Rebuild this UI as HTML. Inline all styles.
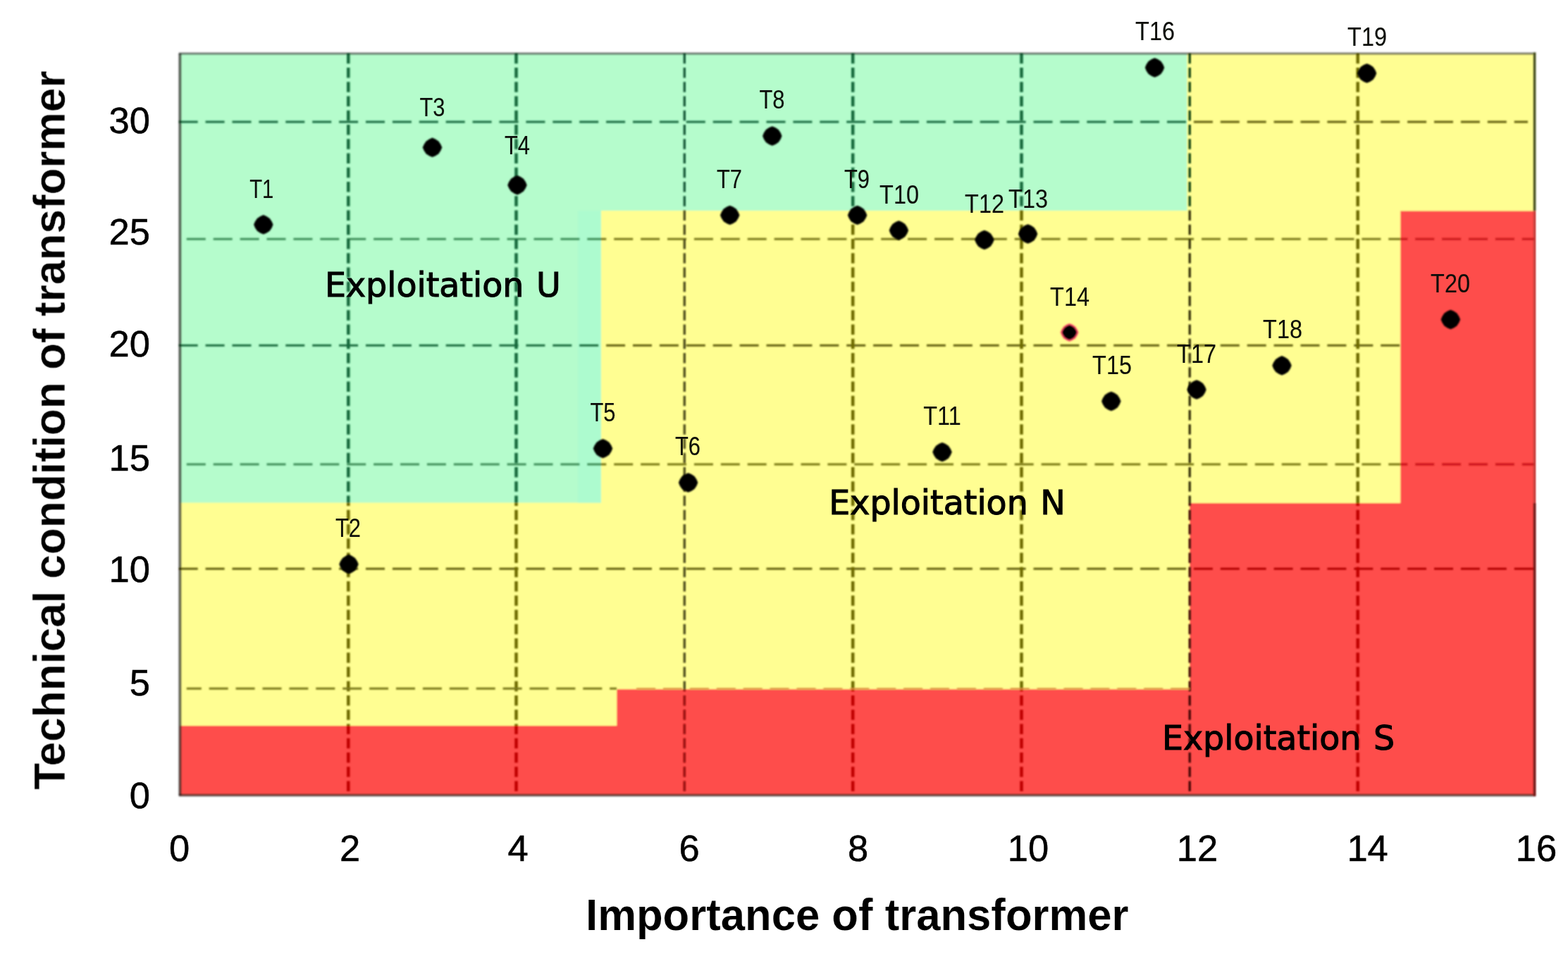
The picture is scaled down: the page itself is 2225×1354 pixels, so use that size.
<!DOCTYPE html>
<html lang="en"><head><meta charset="utf-8"><title>Technical condition vs importance of transformer</title>
<style>
html,body{margin:0;padding:0;background:#fff;}
body{width:2225px;height:1354px;overflow:hidden;}
svg{display:block;}
.tick{font-family:"Liberation Sans",Arial,sans-serif;font-size:52.5px;fill:#000;stroke:#000;stroke-width:0.5px;}
.title{font-family:"Liberation Sans",Arial,sans-serif;font-weight:bold;font-size:61.4px;fill:#000;}
.zone{font-family:"DejaVu Sans","Liberation Sans",sans-serif;font-size:47.5px;fill:#000;stroke:#000;stroke-width:1.1px;word-spacing:2.5px;}
.pt{font-family:"Liberation Sans",Arial,sans-serif;font-size:37px;fill:#0a0e08;stroke:#0a0e08;stroke-width:0.12px;}
</style></head><body>
<svg width="2225" height="1354" viewBox="0 0 2225 1354">
<defs>
<filter id="soft" x="-5%" y="-5%" width="110%" height="110%"><feGaussianBlur stdDeviation="0.9"/></filter>
<filter id="soft2" x="-5%" y="-5%" width="110%" height="110%"><feGaussianBlur stdDeviation="0.6"/></filter>
<filter id="soft3" x="-5%" y="-5%" width="110%" height="110%"><feGaussianBlur stdDeviation="0.55"/></filter>
<filter id="softg" x="-5%" y="-5%" width="110%" height="110%"><feGaussianBlur stdDeviation="1.0"/></filter>
<filter id="soft4" x="-5%" y="-5%" width="110%" height="110%"><feGaussianBlur stdDeviation="0.95"/></filter>
<clipPath id="cg"><polygon points="251.3,72.0 1691.0,72.0 1691.0,299.0 853.0,299.0 853.0,713.5 251.3,713.5"/></clipPath>
<clipPath id="cr"><polygon points="251.3,1030.0 875.3,1030.0 875.3,978.6 1685.5,978.6 1685.5,714.0 1987.3,714.0 1987.3,299.5 2181.6,299.5 2181.6,1132.8 251.3,1132.8"/></clipPath>
<clipPath id="cy"><path clip-rule="evenodd" d="M251.3 72.0L2181.6 72.0L2181.6 1132.8L251.3 1132.8Z M251.3 72.0L1691.0 72.0L1691.0 299.0L853.0 299.0L853.0 713.5L251.3 713.5Z M251.3 1030.0L875.3 1030.0L875.3 978.6L1685.5 978.6L1685.5 714.0L1987.3 714.0L1987.3 299.5L2181.6 299.5L2181.6 1132.8L251.3 1132.8Z"/></clipPath>
</defs>
<rect x="0" y="0" width="2225" height="1354" fill="#ffffff"/>
<g filter="url(#soft)">
<rect x="255.3" y="76.0" width="1922.3" height="1052.8" fill="#fffe92"/>
<polygon fill="#b5fccc" points="255.3,76.0 1684.5,76.0 1684.5,299.0 853.0,299.0 853.0,713.5 255.3,713.5"/>
<rect x="820" y="299" width="33" height="414.5" fill="#adfbcf"/>
<polygon fill="#fe4e4b" points="255.3,1030.0 875.3,1030.0 875.3,978.2 1688.0,978.2 1688.0,714.0 1987.3,714.0 1987.3,299.5 2177.6,299.5 2177.6,1128.8 255.3,1128.8"/>
</g>
<g filter="url(#softg)" fill="none">
<g clip-path="url(#cy)">
<g stroke="#7a7819" stroke-width="3.0" stroke-dasharray="27.00 10.90"><path d="M264.8 339.3H2179.0"/><path d="M264.8 659.0H2179.0"/></g>
<g stroke="#64600a" stroke-width="3.0" stroke-dasharray="27.00 10.90"><path d="M253.7 173.0H2168.0"/><path d="M253.7 490.3H1987.0"/><path d="M253.7 807.2H2179.0"/></g>
<g stroke="#6e6b05" stroke-width="4.5" stroke-dasharray="14.60 5.65"><path d="M494.3 75.7V1128.8"/><path d="M732.5 75.7V1128.8"/><path d="M1210.2 75.7V1128.8"/><path d="M1449.5 75.7V1128.8"/><path d="M1926.7 75.7V1128.8"/></g>
<path d="M1688.2 75.7V1128.8" stroke="#262400" stroke-width="3.1" stroke-dasharray="14.60 5.65"/>
<path d="M971.3 75.7V1128.8" stroke="#504e1c" stroke-width="3.4" stroke-dasharray="14.60 5.65"/>
</g>
<g clip-path="url(#cg)">
<g stroke="#3f8f5a" stroke-width="3.0" stroke-dasharray="27.00 10.90"><path d="M264.8 339.3H2179.0"/><path d="M264.8 659.0H2179.0"/></g>
<g stroke="#1c6c40" stroke-width="3.0" stroke-dasharray="27.00 10.90"><path d="M253.7 173.0H2168.0"/><path d="M253.7 490.3H1987.0"/><path d="M253.7 807.2H2179.0"/></g>
<g stroke="#136a3c" stroke-width="4.5" stroke-dasharray="14.60 5.65"><path d="M494.3 75.7V1128.8"/><path d="M732.5 75.7V1128.8"/><path d="M1210.2 75.7V1128.8"/><path d="M1449.5 75.7V1128.8"/><path d="M1926.7 75.7V1128.8"/></g>
<path d="M1688.2 75.7V1128.8" stroke="#003608" stroke-width="3.1" stroke-dasharray="14.60 5.65"/>
<path d="M971.3 75.7V1128.8" stroke="#165a3a" stroke-width="3.4" stroke-dasharray="14.60 5.65"/>
</g>
<g clip-path="url(#cr)">
<g stroke="#c9181c" stroke-width="3.0" stroke-dasharray="27.00 10.90"><path d="M264.8 339.3H2179.0"/><path d="M264.8 659.0H2179.0"/></g>
<g stroke="#b00606" stroke-width="3.0" stroke-dasharray="27.00 10.90"><path d="M253.7 173.0H2168.0"/><path d="M253.7 490.3H1987.0"/><path d="M253.7 807.2H2179.0"/></g>
<g stroke="#c00505" stroke-width="4.5" stroke-dasharray="14.60 5.65"><path d="M494.3 75.7V1128.8"/><path d="M732.5 75.7V1128.8"/><path d="M1210.2 75.7V1128.8"/><path d="M1449.5 75.7V1128.8"/><path d="M1926.7 75.7V1128.8"/></g>
<path d="M1688.2 75.7V1128.8" stroke="#380000" stroke-width="3.1" stroke-dasharray="14.60 5.65"/>
<path d="M971.3 75.7V1128.8" stroke="#960808" stroke-width="3.4" stroke-dasharray="14.60 5.65"/>
</g>
<path d="M264.8 977.2H875.0" stroke="#7a7819" stroke-width="3.0" stroke-dasharray="27.00 10.90" stroke-dashoffset="6.0"/>
<path d="M903.1 977.6H1688.0" stroke="#d98a3a" stroke-width="2.2" stroke-dasharray="27.00 10.90"/>
<path d="M253.7 76.0H2179.2" stroke="#000" stroke-opacity="0.5" stroke-width="3.2"/>
<path d="M253.7 1128.8H2179.2" stroke="#000" stroke-opacity="0.55" stroke-width="3.4"/>
<path d="M255.3 76.0V1128.8" stroke="#000" stroke-opacity="0.6" stroke-width="3.8"/>
<path d="M2177.6 74.4V299.5" stroke="#3f4716" stroke-width="3.4"/>
<path d="M2177.6 299.5V714.0" stroke="#c02c2c" stroke-width="3.0"/>
<path d="M2177.6 714.0V1129.8" stroke="#6a0909" stroke-width="3.4"/>
</g>
<g filter="url(#soft4)">
<path transform="translate(373.8 318.8)" d="M0 -13.7L4.4 -11.9L8.9 -8.9L11.9 -4.4L13.7 0L11.9 4.4L8.9 8.9L4.4 11.9L0 13.7L-4.4 11.9L-8.9 8.9L-11.9 4.4L-13.7 0L-11.9 -4.4L-8.9 -8.9L-4.4 -11.9Z" fill="#000"/>
<path transform="translate(495.0 800.8)" d="M0 -13.7L4.4 -11.9L8.9 -8.9L11.9 -4.4L13.7 0L11.9 4.4L8.9 8.9L4.4 11.9L0 13.7L-4.4 11.9L-8.9 8.9L-11.9 4.4L-13.7 0L-11.9 -4.4L-8.9 -8.9L-4.4 -11.9Z" fill="#000"/>
<path transform="translate(613.5 209.3)" d="M0 -13.7L4.4 -11.9L8.9 -8.9L11.9 -4.4L13.7 0L11.9 4.4L8.9 8.9L4.4 11.9L0 13.7L-4.4 11.9L-8.9 8.9L-11.9 4.4L-13.7 0L-11.9 -4.4L-8.9 -8.9L-4.4 -11.9Z" fill="#000"/>
<path transform="translate(734.0 262.7)" d="M0 -13.7L4.4 -11.9L8.9 -8.9L11.9 -4.4L13.7 0L11.9 4.4L8.9 8.9L4.4 11.9L0 13.7L-4.4 11.9L-8.9 8.9L-11.9 4.4L-13.7 0L-11.9 -4.4L-8.9 -8.9L-4.4 -11.9Z" fill="#000"/>
<path transform="translate(855.5 636.6)" d="M0 -13.7L4.4 -11.9L8.9 -8.9L11.9 -4.4L13.7 0L11.9 4.4L8.9 8.9L4.4 11.9L0 13.7L-4.4 11.9L-8.9 8.9L-11.9 4.4L-13.7 0L-11.9 -4.4L-8.9 -8.9L-4.4 -11.9Z" fill="#000"/>
<path transform="translate(976.6 685.0)" d="M0 -13.7L4.4 -11.9L8.9 -8.9L11.9 -4.4L13.7 0L11.9 4.4L8.9 8.9L4.4 11.9L0 13.7L-4.4 11.9L-8.9 8.9L-11.9 4.4L-13.7 0L-11.9 -4.4L-8.9 -8.9L-4.4 -11.9Z" fill="#000"/>
<path transform="translate(1035.7 305.4)" d="M0 -13.7L4.4 -11.9L8.9 -8.9L11.9 -4.4L13.7 0L11.9 4.4L8.9 8.9L4.4 11.9L0 13.7L-4.4 11.9L-8.9 8.9L-11.9 4.4L-13.7 0L-11.9 -4.4L-8.9 -8.9L-4.4 -11.9Z" fill="#000"/>
<path transform="translate(1095.8 193.0)" d="M0 -13.7L4.4 -11.9L8.9 -8.9L11.9 -4.4L13.7 0L11.9 4.4L8.9 8.9L4.4 11.9L0 13.7L-4.4 11.9L-8.9 8.9L-11.9 4.4L-13.7 0L-11.9 -4.4L-8.9 -8.9L-4.4 -11.9Z" fill="#000"/>
<path transform="translate(1216.6 305.4)" d="M0 -13.7L4.4 -11.9L8.9 -8.9L11.9 -4.4L13.7 0L11.9 4.4L8.9 8.9L4.4 11.9L0 13.7L-4.4 11.9L-8.9 8.9L-11.9 4.4L-13.7 0L-11.9 -4.4L-8.9 -8.9L-4.4 -11.9Z" fill="#000"/>
<path transform="translate(1275.4 327.0)" d="M0 -13.7L4.4 -11.9L8.9 -8.9L11.9 -4.4L13.7 0L11.9 4.4L8.9 8.9L4.4 11.9L0 13.7L-4.4 11.9L-8.9 8.9L-11.9 4.4L-13.7 0L-11.9 -4.4L-8.9 -8.9L-4.4 -11.9Z" fill="#000"/>
<path transform="translate(1337.0 641.6)" d="M0 -13.7L4.4 -11.9L8.9 -8.9L11.9 -4.4L13.7 0L11.9 4.4L8.9 8.9L4.4 11.9L0 13.7L-4.4 11.9L-8.9 8.9L-11.9 4.4L-13.7 0L-11.9 -4.4L-8.9 -8.9L-4.4 -11.9Z" fill="#000"/>
<path transform="translate(1396.9 340.5)" d="M0 -13.7L4.4 -11.9L8.9 -8.9L11.9 -4.4L13.7 0L11.9 4.4L8.9 8.9L4.4 11.9L0 13.7L-4.4 11.9L-8.9 8.9L-11.9 4.4L-13.7 0L-11.9 -4.4L-8.9 -8.9L-4.4 -11.9Z" fill="#000"/>
<path transform="translate(1458.6 332.0)" d="M0 -13.7L4.4 -11.9L8.9 -8.9L11.9 -4.4L13.7 0L11.9 4.4L8.9 8.9L4.4 11.9L0 13.7L-4.4 11.9L-8.9 8.9L-11.9 4.4L-13.7 0L-11.9 -4.4L-8.9 -8.9L-4.4 -11.9Z" fill="#000"/>
<path transform="translate(1517.6 471.8) scale(0.94)" d="M0 -13.7L4.4 -11.9L8.9 -8.9L11.9 -4.4L13.7 0L11.9 4.4L8.9 8.9L4.4 11.9L0 13.7L-4.4 11.9L-8.9 8.9L-11.9 4.4L-13.7 0L-11.9 -4.4L-8.9 -8.9L-4.4 -11.9Z" fill="#ff4d6c"/>
<path transform="translate(1517.6 471.8) scale(0.79)" d="M0 -13.7L4.4 -11.9L8.9 -8.9L11.9 -4.4L13.7 0L11.9 4.4L8.9 8.9L4.4 11.9L0 13.7L-4.4 11.9L-8.9 8.9L-11.9 4.4L-13.7 0L-11.9 -4.4L-8.9 -8.9L-4.4 -11.9Z" fill="#000"/>
<path transform="translate(1576.8 569.5)" d="M0 -13.7L4.4 -11.9L8.9 -8.9L11.9 -4.4L13.7 0L11.9 4.4L8.9 8.9L4.4 11.9L0 13.7L-4.4 11.9L-8.9 8.9L-11.9 4.4L-13.7 0L-11.9 -4.4L-8.9 -8.9L-4.4 -11.9Z" fill="#000"/>
<path transform="translate(1638.5 96.0)" d="M0 -13.7L4.4 -11.9L8.9 -8.9L11.9 -4.4L13.7 0L11.9 4.4L8.9 8.9L4.4 11.9L0 13.7L-4.4 11.9L-8.9 8.9L-11.9 4.4L-13.7 0L-11.9 -4.4L-8.9 -8.9L-4.4 -11.9Z" fill="#000"/>
<path transform="translate(1698.0 553.0)" d="M0 -13.7L4.4 -11.9L8.9 -8.9L11.9 -4.4L13.7 0L11.9 4.4L8.9 8.9L4.4 11.9L0 13.7L-4.4 11.9L-8.9 8.9L-11.9 4.4L-13.7 0L-11.9 -4.4L-8.9 -8.9L-4.4 -11.9Z" fill="#000"/>
<path transform="translate(1819.0 518.8)" d="M0 -13.7L4.4 -11.9L8.9 -8.9L11.9 -4.4L13.7 0L11.9 4.4L8.9 8.9L4.4 11.9L0 13.7L-4.4 11.9L-8.9 8.9L-11.9 4.4L-13.7 0L-11.9 -4.4L-8.9 -8.9L-4.4 -11.9Z" fill="#000"/>
<path transform="translate(1939.6 104.0)" d="M0 -13.7L4.4 -11.9L8.9 -8.9L11.9 -4.4L13.7 0L11.9 4.4L8.9 8.9L4.4 11.9L0 13.7L-4.4 11.9L-8.9 8.9L-11.9 4.4L-13.7 0L-11.9 -4.4L-8.9 -8.9L-4.4 -11.9Z" fill="#000"/>
<path transform="translate(2058.4 453.5)" d="M0 -13.7L4.4 -11.9L8.9 -8.9L11.9 -4.4L13.7 0L11.9 4.4L8.9 8.9L4.4 11.9L0 13.7L-4.4 11.9L-8.9 8.9L-11.9 4.4L-13.7 0L-11.9 -4.4L-8.9 -8.9L-4.4 -11.9Z" fill="#000"/>
</g>
<g class="pt" text-anchor="middle" filter="url(#soft3)">
<text transform="translate(371.2 281.0) scale(0.790 1)">T1</text>
<text transform="translate(494.0 762.0) scale(0.835 1)">T2</text>
<text transform="translate(613.5 165.0) scale(0.835 1)">T3</text>
<text transform="translate(734.0 219.0) scale(0.835 1)">T4</text>
<text transform="translate(855.5 598.0) scale(0.835 1)">T5</text>
<text transform="translate(976.0 646.0) scale(0.835 1)">T6</text>
<text transform="translate(1035.0 267.0) scale(0.835 1)">T7</text>
<text transform="translate(1095.5 154.0) scale(0.835 1)">T8</text>
<text transform="translate(1216.0 267.0) scale(0.835 1)">T9</text>
<text transform="translate(1276.0 289.0) scale(0.875 1)">T10</text>
<text transform="translate(1337.0 603.0) scale(0.875 1)">T11</text>
<text transform="translate(1397.0 302.0) scale(0.875 1)">T12</text>
<text transform="translate(1459.0 295.0) scale(0.875 1)">T13</text>
<text transform="translate(1518.0 434.0) scale(0.875 1)">T14</text>
<text transform="translate(1578.0 531.0) scale(0.875 1)">T15</text>
<text transform="translate(1639.0 57.0) scale(0.875 1)">T16</text>
<text transform="translate(1698.0 515.0) scale(0.875 1)">T17</text>
<text transform="translate(1820.0 480.0) scale(0.875 1)">T18</text>
<text transform="translate(1940.0 65.0) scale(0.875 1)">T19</text>
<text transform="translate(2058.0 414.5) scale(0.875 1)">T20</text>
</g>
<g class="zone" filter="url(#soft2)">
<text x="461.0" y="420.8">Exploitation U</text>
<text x="1176.3" y="730.4">Exploitation N</text>
<text x="1649" y="1064.0">Exploitation S</text>
</g>
<g class="tick" filter="url(#soft2)">
<text x="254.7" y="1222.2" text-anchor="middle">0</text>
<text x="496.7" y="1222.2" text-anchor="middle">2</text>
<text x="735.0" y="1222.2" text-anchor="middle">4</text>
<text x="978.0" y="1222.2" text-anchor="middle">6</text>
<text x="1217.6" y="1222.2" text-anchor="middle">8</text>
<text x="1459.0" y="1222.2" text-anchor="middle">10</text>
<text x="1699.0" y="1222.2" text-anchor="middle">12</text>
<text x="1940.6" y="1222.2" text-anchor="middle">14</text>
<text x="2180.0" y="1222.2" text-anchor="middle">16</text>
<text x="213" y="189.0" text-anchor="end">30</text>
<text x="213" y="347.4" text-anchor="end">25</text>
<text x="213" y="505.7" text-anchor="end">20</text>
<text x="213" y="667.6" text-anchor="end">15</text>
<text x="213" y="826.0" text-anchor="end">10</text>
<text x="213" y="987.4" text-anchor="end">5</text>
<text x="213" y="1147.0" text-anchor="end">0</text>
</g>
<g class="title" filter="url(#soft2)">
<text transform="translate(1216.3 1320.3) scale(1.004 1.025)" text-anchor="middle" style="stroke:#fff;stroke-width:0.15px;paint-order:fill stroke">Importance of transformer</text>
<text transform="translate(92.0 610.6) rotate(-90) scale(1.002 1.02)" text-anchor="middle" style="font-size:62px;stroke:#fff;stroke-width:0.4px;paint-order:fill stroke">Technical condition of transformer</text>
</g>
</svg>
</body></html>
